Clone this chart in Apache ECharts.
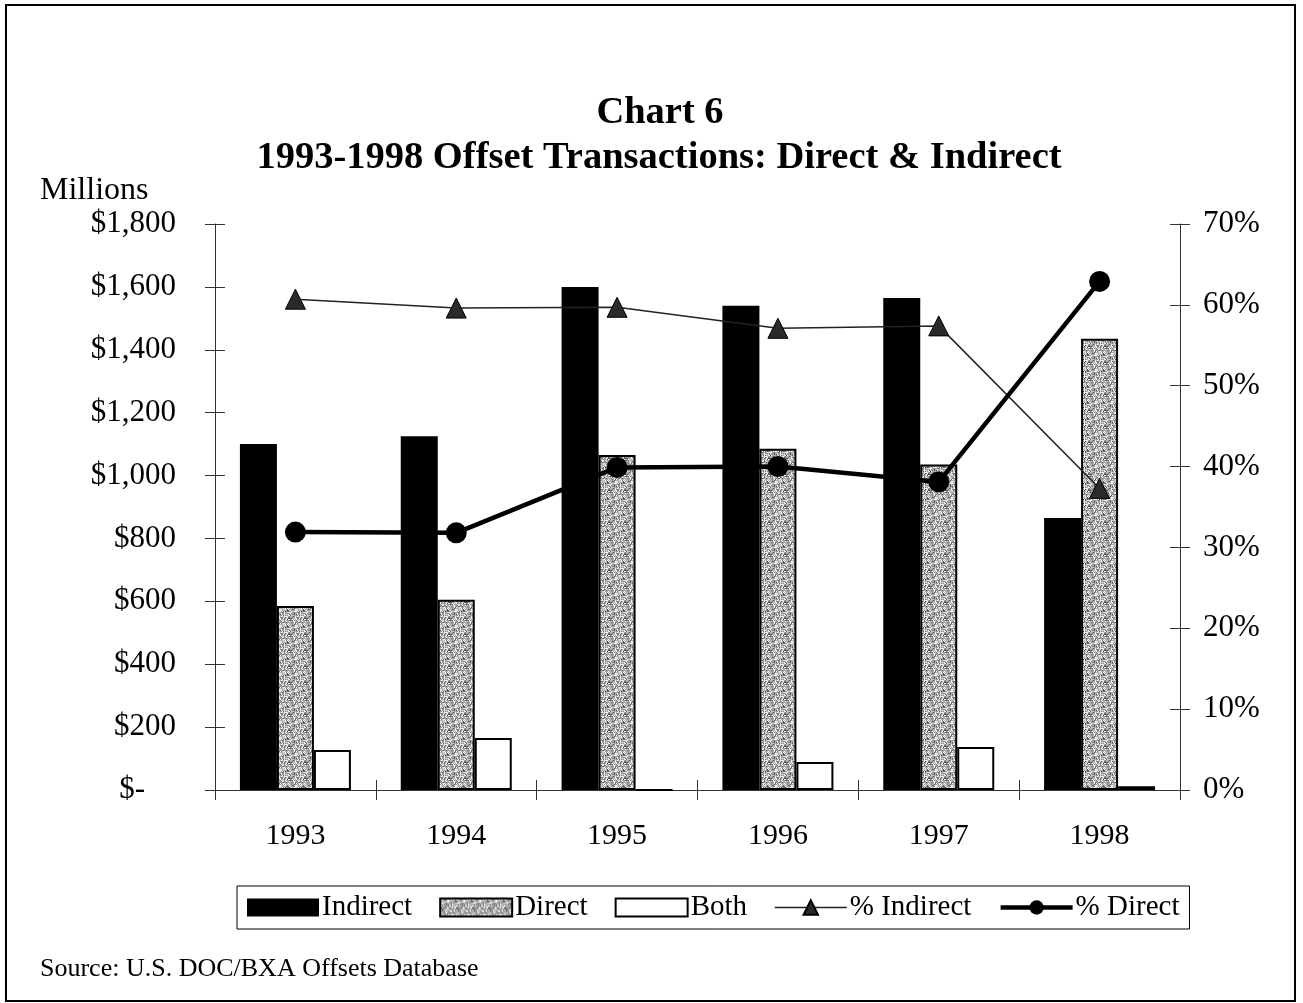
<!DOCTYPE html>
<html>
<head>
<meta charset="utf-8">
<script src="https://cdn.jsdelivr.net/npm/echarts@6/dist/echarts.min.js"></script>
<style>
html,body{margin:0;padding:0;background:#fff;}
#main{width:1303px;height:1003px;}
</style>
</head>
<body>
<div id="main"></div>
<script>
const years = ['1993', '1994', '1995', '1996', '1997', '1998'];
const indirect = [1100, 1125, 1600, 1540, 1565, 865];
const direct = [585, 605, 1065, 1085, 1035, 1435];
const both = [127, 165, 0, 89, 137, 12];
const pctIndirect = [60.7, 59.6, 59.7, 57.1, 57.4, 37.3];
const pctDirect = [31.9, 31.8, 39.9, 40.0, 38.1, 62.9];

const FONT = 'Liberation Serif';

// grainy grey texture (deterministic) for the "Direct" bars
function makePattern() {
  const n = 16;
  const c = document.createElement('canvas');
  c.width = n; c.height = n;
  const ctx = c.getContext('2d');
  ctx.fillStyle = '#acacac';
  ctx.fillRect(0, 0, n, n);
  let s = 12345;
  const next = () => { s = (s * 1103515245 + 12345) & 0x7fffffff; return s / 0x7fffffff; };
  for (let y = 0; y < n; y++) {
    for (let x = 0; x < n; x++) {
      const r = next();
      if (r < 0.18) { ctx.fillStyle = '#555555'; ctx.fillRect(x, y, 1, 1); }
      else if (r < 0.45) { ctx.fillStyle = '#eeeeee'; ctx.fillRect(x, y, 1, 1); }
      else if (r < 0.6) { ctx.fillStyle = '#808080'; ctx.fillRect(x, y, 1, 1); }
    }
  }
  return c;
}
const pattern = { image: makePattern(), repeat: 'repeat' };

const chart = echarts.init(document.getElementById('main'), null, { renderer: 'canvas' });

const axisLineStyle = { color: '#333', width: 1 };
const labelStyle = { fontFamily: FONT, fontSize: 31, color: '#000' };
const titleStyle = { fontFamily: FONT, fontSize: 38.5, fontWeight: 'bold', color: '#000' };

const option = {
  backgroundColor: '#fff',
  animation: false,
  title: [
    {
      text: 'Chart 6', left: 655, top: 89, textAlign: 'center', textVerticalAlign: 'top',
      textStyle: titleStyle
    },
    {
      text: '1993-1998 Offset Transactions: Direct & Indirect', left: 654, top: 134,
      textAlign: 'center', textVerticalAlign: 'top',
      textStyle: titleStyle
    }
  ],
  grid: { left: 215, right: 123, top: 224, bottom: 213, containLabel: false },
  legend: {
    left: 237, top: 886,
    padding: [7, 10],
    borderColor: '#000', borderWidth: 1,
    itemWidth: 72, itemHeight: 18, itemGap: 27,
    textStyle: { fontFamily: FONT, fontSize: 29, color: '#000', padding: [0, 0, 0, -2] },
    data: [
      { name: 'Indirect', icon: 'rect' },
      { name: 'Direct', icon: 'rect' },
      { name: 'Both', icon: 'rect' },
      { name: '% Indirect', lineStyle: { width: 1.5 } },
      { name: '% Direct', lineStyle: { width: 4.5 } }
    ]
  },
  xAxis: [
    {
      type: 'category', data: years, position: 'bottom',
      axisLine: { lineStyle: axisLineStyle },
      axisTick: { show: true, length: 10, inside: false, lineStyle: axisLineStyle },
      axisLabel: Object.assign({ margin: 31 }, labelStyle, { fontSize: 30 }),
      splitLine: { show: false }
    },
    {
      type: 'category', data: years, position: 'bottom',
      axisLine: { show: false },
      axisTick: { show: true, length: 10, inside: true, lineStyle: axisLineStyle },
      axisLabel: { show: false },
      splitLine: { show: false }
    }
  ],
  yAxis: [
    {
      type: 'value', position: 'left', min: 0, max: 1800, interval: 200,
      axisLine: { show: true, lineStyle: axisLineStyle },
      axisTick: { show: true, length: 10, inside: false, lineStyle: axisLineStyle },
      axisLabel: Object.assign({
        margin: 39,
        formatter: v => v === 0 ? '$-    ' : '$' + v.toLocaleString('en-US')
      }, labelStyle),
      splitLine: { show: false }
    },
    {
      type: 'value', position: 'right', min: 0, max: 70, interval: 10,
      axisLine: { show: true, lineStyle: axisLineStyle },
      axisTick: { show: true, length: 10, inside: false, lineStyle: axisLineStyle },
      axisLabel: Object.assign({ margin: 23, formatter: '{value}%' }, labelStyle),
      splitLine: { show: false }
    },
    {
      type: 'value', position: 'left', min: 0, max: 1800, interval: 200,
      axisLine: { show: false },
      axisTick: { show: true, length: 10, inside: true, lineStyle: axisLineStyle },
      axisLabel: { show: false },
      splitLine: { show: false }
    },
    {
      type: 'value', position: 'right', min: 0, max: 70, interval: 10,
      axisLine: { show: false },
      axisTick: { show: true, length: 10, inside: true, lineStyle: axisLineStyle },
      axisLabel: { show: false },
      splitLine: { show: false }
    }
  ],
  series: [
    {
      name: 'Indirect', type: 'bar', data: indirect, barWidth: 37, barGap: '0%',
      itemStyle: { color: '#000', borderColor: '#000', borderWidth: 0 }, z: 2
    },
    {
      name: 'Direct', type: 'bar', data: direct, barWidth: 37, barGap: '0%',
      itemStyle: { color: pattern, borderColor: '#000', borderWidth: 2 }, z: 2
    },
    {
      name: 'Both', type: 'bar', data: both, barWidth: 37, barGap: '0%',
      itemStyle: { color: '#fff', borderColor: '#000', borderWidth: 2 }, z: 2
    },
    {
      name: '% Indirect', type: 'line', yAxisIndex: 1, data: pctIndirect,
      symbol: 'triangle', symbolSize: 20, showAllSymbol: true,
      lineStyle: { color: '#222', width: 1.5 },
      itemStyle: { color: '#2a2a2a', borderColor: '#000', borderWidth: 1 }, z: 5
    },
    {
      name: '% Direct', type: 'line', yAxisIndex: 1, data: pctDirect,
      symbol: 'circle', symbolSize: 21, showAllSymbol: true,
      lineStyle: { color: '#000', width: 4.5 },
      itemStyle: { color: '#000' }, z: 6
    }
  ],
  graphic: [
    {
      type: 'rect', z: 100, silent: true,
      shape: { x: 6, y: 5, width: 1289, height: 996 },
      style: { fill: 'none', stroke: '#000', lineWidth: 2 }
    },
    {
      type: 'text', left: 40, top: 175,
      style: { text: 'Millions', font: '32px "Liberation Serif"', fill: '#000' }
    },
    {
      type: 'text', left: 40, top: 956,
      style: { text: 'Source: U.S. DOC/BXA Offsets Database', font: '26px "Liberation Serif"', fill: '#000' }
    }
  ]
};

chart.setOption(option);
</script>
</body>
</html>
